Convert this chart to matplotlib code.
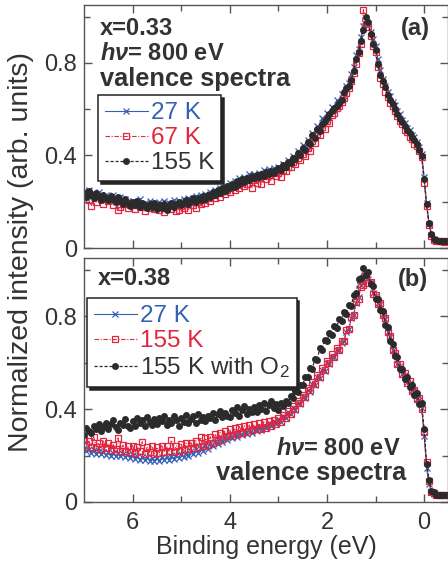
import numpy as np
import matplotlib
matplotlib.use("Agg")
import matplotlib.pyplot as plt
from matplotlib.ticker import FixedLocator, FixedFormatter

plt.rcParams['font.family'] = ['Liberation Sans', 'DejaVu Sans']
plt.rcParams['mathtext.fontset'] = 'custom'
plt.rcParams['mathtext.rm'] = 'Liberation Sans'
plt.rcParams['mathtext.it'] = 'Liberation Sans:italic:bold'
plt.rcParams['mathtext.bf'] = 'Liberation Sans:bold'

# Binding energy sampling grid (eV), 7.00 down to -0.45 in 0.05 steps
be = np.round(np.linspace(7.0, -0.45, 150), 2)

# ---- panel (a): x = 0.33 ----
a_27K = [
    0.245,0.228,0.252,0.221,0.236,0.214,0.240,0.226,0.209,0.231,
    0.222,0.205,0.230,0.198,0.214,0.219,0.192,0.211,0.203,0.188,
    0.205,0.183,0.199,0.210,0.178,0.196,0.187,0.203,0.181,0.194,
    0.176,0.198,0.185,0.204,0.179,0.196,0.188,0.209,0.182,0.201,
    0.190,0.212,0.196,0.218,0.203,0.195,0.224,0.207,0.229,0.211,
    0.235,0.218,0.244,0.229,0.251,0.236,0.259,0.244,0.268,0.251,
    0.282,0.262,0.289,0.271,0.301,0.280,0.306,0.291,0.318,0.299,
    0.319,0.297,0.326,0.309,0.335,0.313,0.340,0.318,0.345,0.326,
    0.352,0.331,0.362,0.349,0.381,0.366,0.398,0.384,0.418,0.405,
    0.445,0.428,0.468,0.455,0.497,0.481,0.526,0.512,0.561,0.547,
    0.585,0.566,0.611,0.598,0.640,0.622,0.665,0.657,0.701,0.712,
    0.752,0.781,0.832,0.861,0.910,0.958,0.985,0.968,0.935,0.902,
    0.872,0.815,0.768,0.731,0.702,0.672,0.658,0.631,0.618,0.592,
    0.578,0.552,0.541,0.520,0.509,0.488,0.478,0.458,0.437,0.405,
    0.305,0.195,0.105,0.058,0.038,0.032,0.030,0.031,0.029,0.030]
a_67K = [
    0.225,0.238,0.206,0.182,0.231,0.198,0.224,0.212,0.190,0.215,
    0.201,0.218,0.186,0.207,0.165,0.178,0.203,0.191,0.172,0.196,
    0.184,0.170,0.192,0.176,0.188,0.160,0.183,0.174,0.190,0.168,
    0.180,0.166,0.187,0.155,0.172,0.181,0.170,0.186,0.158,0.164,
    0.183,0.171,0.192,0.165,0.197,0.185,0.174,0.199,0.188,0.206,
    0.196,0.215,0.202,0.227,0.214,0.236,0.221,0.245,0.233,0.252,
    0.244,0.262,0.251,0.274,0.260,0.283,0.268,0.276,0.292,0.258,
    0.296,0.283,0.304,0.275,0.312,0.298,0.316,0.290,0.322,0.311,
    0.325,0.305,0.338,0.334,0.352,0.349,0.370,0.362,0.389,0.381,
    0.405,0.396,0.432,0.421,0.463,0.452,0.493,0.487,0.521,0.514,
    0.548,0.541,0.575,0.582,0.604,0.613,0.632,0.648,0.668,0.690,
    0.720,0.758,0.795,0.842,0.880,1.030,0.970,0.955,0.918,0.875,
    0.845,0.782,0.736,0.710,0.676,0.651,0.628,0.612,0.590,0.571,
    0.548,0.537,0.512,0.503,0.481,0.472,0.449,0.441,0.418,0.392,
    0.282,0.181,0.098,0.054,0.036,0.031,0.029,0.030,0.028,0.030]
a_155K = [
    0.238,0.222,0.246,0.230,0.215,0.237,0.224,0.209,0.229,0.218,
    0.207,0.226,0.212,0.198,0.219,0.204,0.191,0.210,0.196,0.183,
    0.199,0.186,0.205,0.178,0.193,0.184,0.171,0.190,0.177,0.196,
    0.168,0.185,0.174,0.192,0.163,0.181,0.195,0.176,0.189,0.200,
    0.184,0.196,0.209,0.191,0.203,0.214,0.198,0.218,0.206,0.224,
    0.213,0.231,0.222,0.241,0.228,0.250,0.239,0.260,0.248,0.266,
    0.258,0.275,0.265,0.289,0.276,0.299,0.285,0.304,0.293,0.313,
    0.301,0.315,0.307,0.321,0.312,0.328,0.318,0.333,0.322,0.338,
    0.345,0.338,0.357,0.352,0.372,0.368,0.391,0.386,0.410,0.402,
    0.432,0.425,0.459,0.448,0.487,0.476,0.513,0.506,0.536,0.550,
    0.561,0.578,0.590,0.604,0.615,0.628,0.641,0.672,0.690,0.702,
    0.728,0.765,0.815,0.848,0.896,0.944,1.000,0.975,0.925,0.880,
    0.855,0.795,0.748,0.720,0.694,0.660,0.641,0.622,0.601,0.580,
    0.558,0.545,0.528,0.511,0.495,0.480,0.466,0.451,0.425,0.398,
    0.298,0.190,0.108,0.060,0.040,0.034,0.031,0.030,0.030,0.031]

# ---- panel (b): x = 0.38 ----
b_27K = [
    0.232,0.218,0.229,0.211,0.224,0.208,0.220,0.205,0.217,0.203,
    0.214,0.200,0.212,0.197,0.210,0.196,0.208,0.193,0.205,0.190,
    0.202,0.187,0.198,0.181,0.195,0.180,0.193,0.178,0.191,0.177,
    0.190,0.175,0.193,0.179,0.195,0.181,0.198,0.185,0.202,0.189,
    0.207,0.193,0.212,0.198,0.218,0.205,0.226,0.212,0.234,0.221,
    0.244,0.230,0.254,0.239,0.263,0.249,0.274,0.259,0.282,0.268,
    0.289,0.275,0.295,0.280,0.301,0.287,0.307,0.293,0.313,0.299,
    0.319,0.305,0.325,0.311,0.333,0.318,0.341,0.326,0.349,0.336,
    0.358,0.345,0.371,0.360,0.386,0.377,0.405,0.398,0.428,0.420,
    0.453,0.447,0.480,0.475,0.508,0.503,0.538,0.534,0.568,0.565,
    0.598,0.595,0.625,0.624,0.654,0.652,0.686,0.692,0.733,0.744,
    0.790,0.806,0.858,0.882,0.933,0.947,0.970,0.960,0.947,0.898,
    0.887,0.858,0.852,0.808,0.788,0.733,0.708,0.653,0.632,0.593,
    0.585,0.551,0.547,0.515,0.512,0.481,0.477,0.445,0.438,0.403,
    0.285,0.145,0.078,0.043,0.036,0.030,0.031,0.029,0.030,0.030]
b_155K = [
    0.268,0.244,0.262,0.238,0.281,0.236,0.255,0.229,0.262,0.233,
    0.252,0.224,0.247,0.228,0.276,0.221,0.245,0.219,0.240,0.216,
    0.243,0.212,0.238,0.219,0.259,0.208,0.236,0.214,0.241,0.207,
    0.236,0.211,0.242,0.214,0.239,0.218,0.267,0.216,0.243,0.221,
    0.249,0.222,0.253,0.228,0.256,0.233,0.264,0.236,0.278,0.241,
    0.275,0.247,0.281,0.256,0.292,0.263,0.299,0.271,0.305,0.282,
    0.312,0.286,0.318,0.293,0.324,0.298,0.328,0.303,0.331,0.309,
    0.334,0.312,0.339,0.316,0.345,0.320,0.349,0.327,0.352,0.335,
    0.361,0.346,0.375,0.361,0.391,0.380,0.412,0.401,0.436,0.425,
    0.462,0.452,0.489,0.480,0.517,0.508,0.547,0.538,0.577,0.568,
    0.607,0.597,0.635,0.625,0.663,0.654,0.694,0.692,0.740,0.743,
    0.797,0.803,0.862,0.873,0.927,0.933,0.977,0.943,0.947,0.893,
    0.892,0.853,0.857,0.803,0.792,0.730,0.715,0.653,0.642,0.592,
    0.594,0.550,0.556,0.514,0.520,0.478,0.484,0.442,0.446,0.400,
    0.302,0.172,0.092,0.042,0.040,0.029,0.031,0.030,0.029,0.030]
b_155K_O2 = [
    0.288,0.318,0.306,0.296,0.329,0.312,0.335,0.305,0.322,0.341,
    0.315,0.336,0.352,0.324,0.309,0.342,0.331,0.356,0.327,0.318,
    0.347,0.329,0.361,0.338,0.352,0.325,0.366,0.343,0.331,0.358,
    0.336,0.362,0.349,0.371,0.332,0.355,0.340,0.368,0.351,0.329,
    0.361,0.345,0.374,0.338,0.357,0.369,0.341,0.380,0.352,0.366,
    0.349,0.372,0.360,0.385,0.355,0.378,0.392,0.366,0.384,0.371,
    0.365,0.398,0.383,0.407,0.372,0.395,0.411,0.379,0.402,0.388,
    0.409,0.386,0.418,0.401,0.425,0.392,0.416,0.433,0.405,0.421,
    0.398,0.424,0.411,0.436,0.427,0.455,0.447,0.478,0.472,0.505,
    0.503,0.537,0.536,0.575,0.572,0.617,0.612,0.661,0.655,0.699,
    0.692,0.728,0.718,0.758,0.748,0.789,0.778,0.818,0.808,0.847,
    0.843,0.892,0.898,0.958,0.963,1.005,0.978,0.990,0.938,0.931,
    0.872,0.873,0.828,0.822,0.763,0.752,0.693,0.682,0.628,0.624,
    0.573,0.574,0.531,0.537,0.496,0.502,0.460,0.467,0.423,0.424,
    0.312,0.165,0.093,0.046,0.041,0.030,0.032,0.029,0.031,0.030]

labels_a = ["27 K", "67 K", "155 K"]
labels_b = ["27 K", "155 K", "155 K with O$_2$"]
xticks_major = [6, 4, 2, 0]
yticks_major = [0, 0.4, 0.8]
ytick_labels = ["0", "0.4", "0.8"]

BLUE = '#3461b5'
RED = '#e2263f'
BLACK = '#2b2b2b'
TXT = '#333333'
SPINE = '#555555'

styles = [
    dict(color=BLUE, marker='x', ms=3.8, mew=0.9, lw=0.8, ls='-'),
    dict(color=RED, marker='s', ms=4.0, mfc='none', mew=0.9, lw=0.8, ls=(0, (4, 1.5, 1, 1.5))),
    dict(color=BLACK, marker='o', ms=5.0, mew=0, lw=0.9, ls=(0, (2.5, 1.5))),
]

fig = plt.figure(figsize=(4.48, 5.63), dpi=100)
ax_a = fig.add_axes([0.1875, 0.5595, 0.8135, 0.4316])
ax_b = fig.add_axes([0.1875, 0.10835, 0.8135, 0.4334])

def style_axes(ax, show_x):
    ax.set_xlim(7.0, -0.5)
    ax.set_ylim(0, 1.05)
    ax.xaxis.set_major_locator(FixedLocator(xticks_major))
    ax.xaxis.set_minor_locator(FixedLocator([5, 3, 1]))
    ax.yaxis.set_major_locator(FixedLocator(yticks_major))
    ax.yaxis.set_major_formatter(FixedFormatter(ytick_labels))
    ax.yaxis.set_minor_locator(FixedLocator([0.2, 0.6, 1.0]))
    ax.tick_params(which='both', direction='in', top=True, right=True,
                   color=SPINE, labelcolor=TXT, labelsize=17, width=1.0)
    ax.tick_params(which='major', length=5.5, pad=5)
    ax.tick_params(which='minor', length=4)
    ax.tick_params(axis='x', pad=7)
    if not show_x:
        ax.tick_params(axis='x', labelbottom=False)
    for s in ax.spines.values():
        s.set_color(SPINE)
        s.set_linewidth(1.0)

def draw(ax, series, labels, anchor):
    handles = []
    for y, lab, st in zip(series, labels, styles):
        h, = ax.plot(be, y, label=lab, **st)
        handles.append(h)
    leg = ax.legend(handles=handles, loc='upper left', bbox_to_anchor=anchor,
                    borderaxespad=0, fontsize=17.5, frameon=True, fancybox=False,
                    shadow={'color': '0.15', 'alpha': 1.0},
                    handlelength=1.75, handletextpad=0.12, labelspacing=0.12,
                    borderpad=0.3, numpoints=1, framealpha=1)
    leg.get_frame().set_edgecolor('#222222')
    leg.get_frame().set_linewidth(1.1)
    for t, st in zip(leg.get_texts(), styles):
        t.set_color(st['color'] if st['color'] != BLACK else TXT)
    return leg

style_axes(ax_a, False)
style_axes(ax_b, True)

draw(ax_a, [a_27K, a_67K, a_155K], labels_a, (0.038, 0.63))
draw(ax_b, [b_27K, b_155K, b_155K_O2], labels_b, (0.008, 0.836))

tkw = dict(fontweight='bold', color=TXT)
ax_a.text(0.044, 0.877, "x=0.33", transform=ax_a.transAxes, va='baseline', ha='left', fontsize=17, **tkw)
ax_a.text(0.044, 0.774, r"$h\nu$= 800 eV", transform=ax_a.transAxes, va='baseline', ha='left', fontsize=17, **tkw)
ax_a.text(0.044, 0.667, "valence spectra", transform=ax_a.transAxes, va='baseline', ha='left', fontsize=18.3, **tkw)
ax_a.text(0.95, 0.905, "(a)", transform=ax_a.transAxes, va='center', ha='right', fontsize=17, **tkw)

ax_b.text(0.038, 0.889, "x=0.38", transform=ax_b.transAxes, va='baseline', ha='left', fontsize=17, **tkw)
ax_b.text(0.868, 0.193, r"$h\nu$= 800 eV", transform=ax_b.transAxes, va='baseline', ha='right', fontsize=17, **tkw)
ax_b.text(0.885, 0.09, "valence spectra", transform=ax_b.transAxes, va='baseline', ha='right', fontsize=18.3, **tkw)
ax_b.text(0.945, 0.91, "(b)", transform=ax_b.transAxes, va='center', ha='right', fontsize=17, **tkw)

ax_b.set_xlabel("Binding energy (eV)", fontsize=18, color=TXT, labelpad=1)
fig.text(0.047, 0.552, "Normalized intensity (arb. units)", rotation=90,
         ha='center', va='center', fontsize=20.5, color=TXT)

fig.savefig("out.png", dpi=100)
